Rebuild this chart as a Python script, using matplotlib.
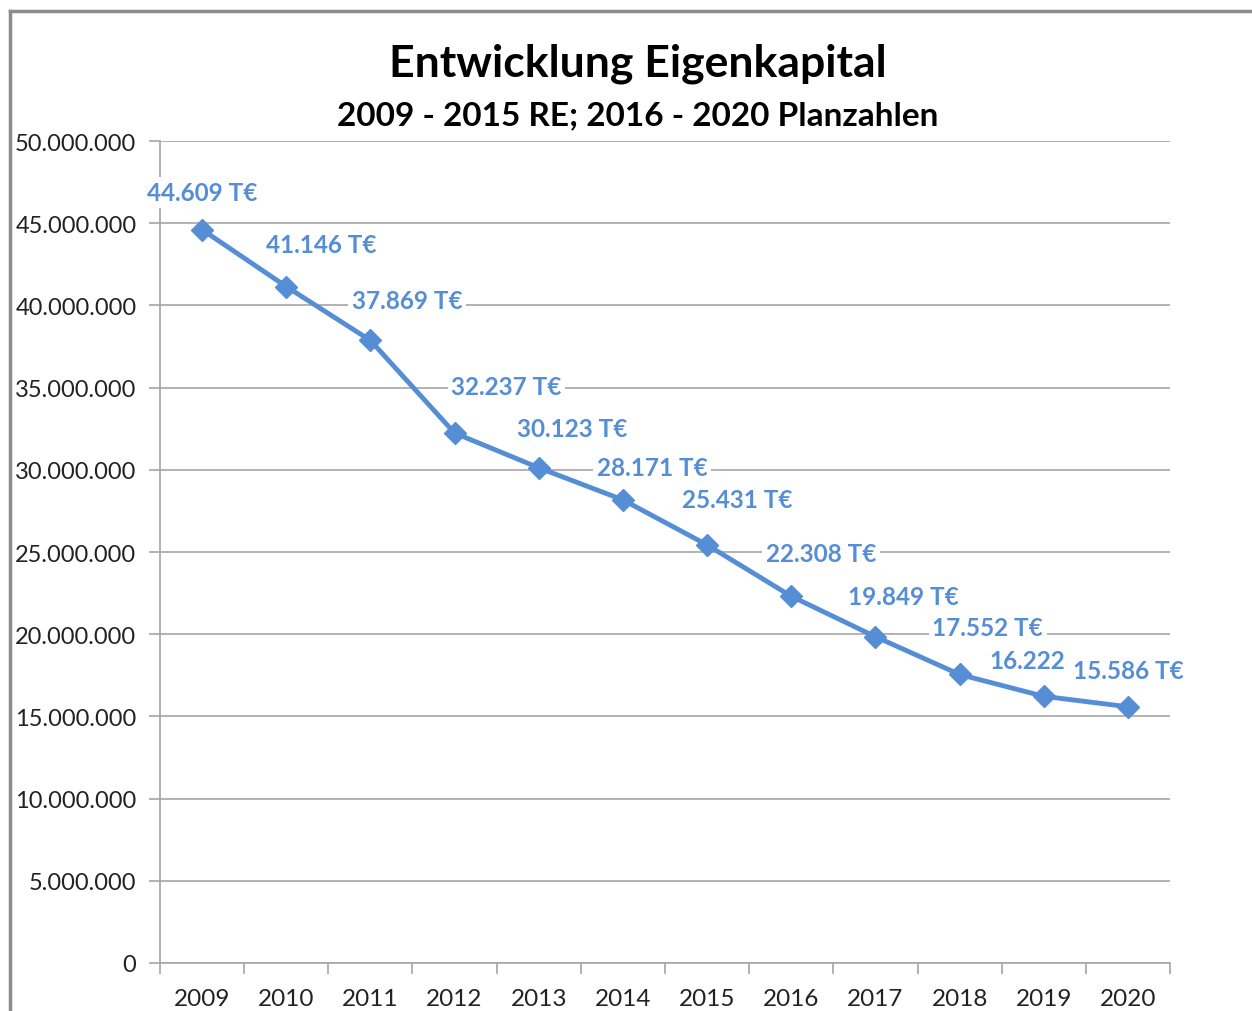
import matplotlib.pyplot as plt
from matplotlib.lines import Line2D
from matplotlib.ticker import FuncFormatter, FixedLocator

jahre = ["2009", "2010", "2011", "2012", "2013", "2014",
         "2015", "2016", "2017", "2018", "2019", "2020"]
eigenkapital = [44609000, 41146000, 37869000, 32237000, 30123000, 28171000,
                25431000, 22308000, 19849000, 17552000, 16222000, 15586000]
beschriftung = ["44.609 T€", "41.146 T€", "37.869 T€", "32.237 T€", "30.123 T€",
                "28.171 T€", "25.431 T€", "22.308 T€", "19.849 T€", "17.552 T€",
                "16.222", "15.586 T€"]

# label offsets in pixels (layout only)
versatz = [(0, 37), (35, 42), (37, 40), (52, 47), (33, 39), (29, 32),
           (30, 45), (30, 43), (28, 40), (28, 47), (-16, 36), (0, 36)]

blau = "#558ED5"
grau = "#A6A6A6"
plt.rcParams['font.family'] = ['Lato', 'DejaVu Sans']

fig = plt.figure(figsize=(12.52, 10.12), dpi=100)
ax = fig.add_axes([160 / 1252, 48 / 1012, 1010 / 1252, 822 / 1012])

x = list(range(len(jahre)))
ax.plot(x, eigenkapital, color=blau, lw=3.5, marker="D", ms=11, zorder=3)

for i, (wert, text) in enumerate(zip(eigenkapital, beschriftung)):
    ax.annotate(text, (i, wert), xytext=versatz[i], textcoords="offset pixels",
                ha="center", va="center", color=blau, fontsize=17.5, fontweight="bold",
                bbox=dict(boxstyle="square,pad=0.15", fc="white", ec="none"), zorder=4)

ax.set_xlim(-0.5, 11.5)
ax.set_ylim(0, 50000000)
ax.set_yticks(range(0, 50000001, 5000000))
ax.yaxis.set_major_formatter(FuncFormatter(lambda v, p: f"{int(v):,}".replace(",", ".")))
ax.set_xticks(x)
ax.set_xticklabels(jahre)
ax.xaxis.set_minor_locator(FixedLocator([i - 0.5 for i in range(13)]))
ax.tick_params(axis="x", which="major", length=0, pad=18, labelsize=17.5, labelcolor="#222222")
ax.tick_params(axis="x", which="minor", length=8, color=grau, width=1.2)
ax.tick_params(axis="y", length=8, color=grau, width=1.2, pad=9, labelsize=17, labelcolor="#222222")
ax.grid(axis="y", color=grau, lw=1.2)
ax.set_axisbelow(True)
for s in ["top", "right"]:
    ax.spines[s].set_visible(False)
for s in ["left", "bottom"]:
    ax.spines[s].set_color(grau)
    ax.spines[s].set_linewidth(1.2)

fig.text(638 / 1252, 1 - 64 / 1012, "Entwicklung Eigenkapital", ha="center", va="center",
         fontsize=32, fontweight="bold")
fig.text(638 / 1252, 1 - 116 / 1012, "2009 - 2015 RE; 2016 - 2020 Planzahlen", ha="center",
         va="center", fontsize=24, fontweight="bold")

# chart area frame (cropped)
fig.add_artist(Line2D([10 / 1252, 1], [1 - 12 / 1012] * 2, color="#8C8C8C", lw=2.5,
                      transform=fig.transFigure))
fig.add_artist(Line2D([10 / 1252] * 2, [0, 1 - 12 / 1012], color="#8C8C8C", lw=2.5,
                      transform=fig.transFigure))

fig.savefig("out.png", dpi=100)
